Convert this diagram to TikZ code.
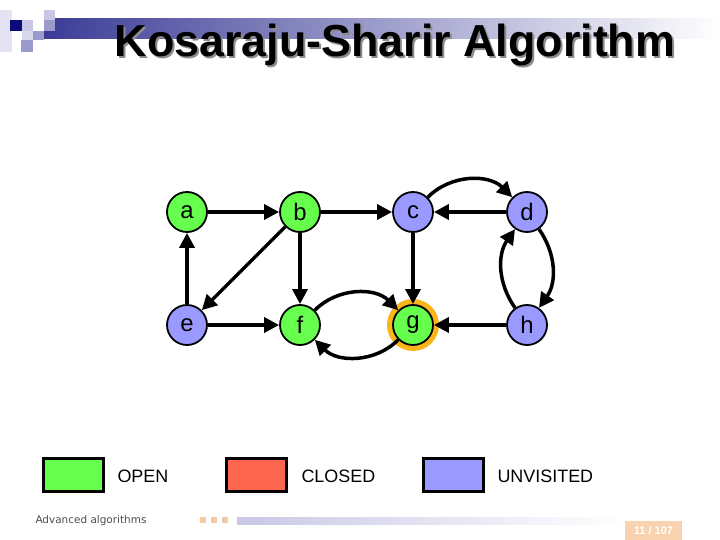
\documentclass[tikz,border=0pt]{standalone}
\usepackage{fontspec}
\setmainfont{Liberation Sans}
\newfontfamily\footfont{DejaVu Sans}
\usetikzlibrary{arrows.meta}
\definecolor{openc}{HTML}{66FF4D}
\definecolor{closedc}{HTML}{FF6650}
\definecolor{unvisc}{HTML}{9999FF}
\definecolor{ringc}{HTML}{F9B51A}
\definecolor{bannerc}{HTML}{3C3C98}
\definecolor{navyc}{HTML}{0A0A78}
\definecolor{lavc}{HTML}{C8C8E6}
\definecolor{midlavc}{HTML}{9A9ACC}
\definecolor{peachc}{HTML}{F9D2B0}
\definecolor{dotc}{HTML}{F3C9A6}

\begin{document}
\begin{tikzpicture}[x=1bp,y=1bp,
  vert/.style={circle,draw=black,line width=1.8bp,minimum size=40bp,inner sep=0pt,
    font=\fontsize{24}{24}\selectfont},
  arc/.style={line width=3.5bp,-{Triangle[length=15bp,width=15bp]}},
  legbox/.style={draw=black,line width=2.5bp,minimum width=60bp,minimum height=33bp,inner sep=0pt},
  legtext/.style={anchor=west,font=\fontsize{18}{18}\selectfont}]
  \useasboundingbox (0,0) rectangle (720,-540);
  % header
  \shade[left color=bannerc,right color=white] (44,-19) rectangle (720,-39);
  \fill[lavc!50] (0,-10) rectangle (12,-52);
  \fill[navyc] (10,-20) rectangle (22,-31);
  \fill[lavc] (22,-20) rectangle (33,-31);
  \fill[lavc!70] (22,-31) rectangle (33,-40);
  \fill[midlavc] (33,-31) rectangle (44,-40);
  \fill[midlavc] (21,-40) rectangle (33,-52);
  \fill[lavc] (44,-10) rectangle (55,-20);
  \fill[midlavc] (44,-20) rectangle (55,-31);
  \node[text=black!45,font=\bfseries\fontsize{45}{45}\selectfont] (titleshadow) at (397,-47) {Kosaraju-Sharir Algorithm};
  \node[font=\bfseries\fontsize{45}{45}\selectfont] (title) at (395,-45) {Kosaraju-Sharir Algorithm};

  % graph
  \fill[ringc] (413,-325) circle (26);
  \node[vert,fill=openc] (a) at (187,-212) {a};
  \node[vert,fill=openc] (b) at (300,-212) {b};
  \node[vert,fill=unvisc] (c) at (413,-212) {c};
  \node[vert,fill=unvisc] (d) at (527,-212) {d};
  \node[vert,fill=unvisc] (e) at (187,-325) {e};
  \node[vert,fill=openc] (f) at (300,-325) {f};
  \node[vert,fill=openc] (g) at (413,-325) {g};
  \node[vert,fill=unvisc] (h) at (527,-325) {h};
  \draw[arc] (e) -- (a);
  \draw[arc] (a) -- (b);
  \draw[arc] (b) -- (c);
  \draw[arc] (b) -- (e);
  \draw[arc] (b) -- (f);
  \draw[arc] (e) -- (f);
  \draw[arc] (c) -- (g);
  \draw[arc] (d) -- (c);
  \draw[arc] (h) -- (g);
  \draw[arc] (c) to[bend left=45] (d);
  \draw[arc] (d) to[bend left=35] (h);
  \draw[arc] (h) to[bend left=35] (d);
  \draw[arc] (f) to[bend left=45] (g);
  \draw[arc] (g) to[bend left=45] (f);

  % legend
  \node[legbox,fill=openc] (openbox) at (73.5,-475) {};
  \node[legtext] (opentext) at (114,-476) {OPEN};
  \node[legbox,fill=closedc] (closedbox) at (256.5,-475) {};
  \node[legtext] (closedtext) at (298,-476) {CLOSED};
  \node[legbox,fill=unvisc] (unvisbox) at (453.5,-475) {};
  \node[legtext] (unvistext) at (494,-476) {UNVISITED};

  % footer
  \node[anchor=west,text=black!70,font=\footfont\fontsize{10.5}{10.5}\selectfont] (course) at (32,-521) {Advanced algorithms};
  \foreach \x in {200,211,222}
    \fill[dotc] (\x,-517) rectangle ++(6,-6);
  \shade[left color=lavc,right color=white] (237,-517) rectangle (625,-524);
  \node[fill=peachc,minimum width=57bp,minimum height=19bp,inner sep=0pt,text=white,
    font=\bfseries\fontsize{11}{11}\selectfont] (page) at (653.5,-530.5) {11 / 107};
\end{tikzpicture}
\end{document}
